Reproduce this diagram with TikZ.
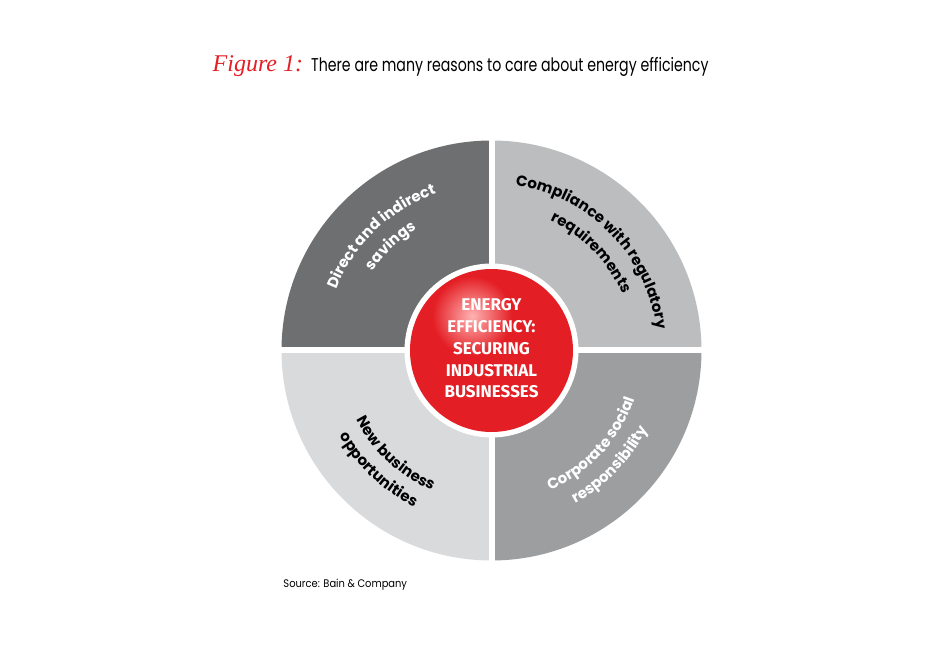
\documentclass[tikz,border=0pt]{standalone}
\usepackage{fontspec}
\setmainfont{Poppins}
\newfontfamily\titlefont[FakeStretch=0.765]{Poppins}
\newfontfamily\srcfont[FakeStretch=0.9]{Poppins}
\newfontfamily\centerfont{Fira Sans}
\newfontfamily\figfont{Liberation Serif}
\usepackage{tikz}
\usetikzlibrary{decorations.text}

\definecolor{qdark}{HTML}{6E6F70}
\definecolor{qlight}{HTML}{BCBDBF}
\definecolor{qmid}{HTML}{9C9E9F}
\definecolor{qpale}{HTML}{D9DADC}
\definecolor{ered}{HTML}{E31E24}
\newcommand\lblfont{\fontsize{15}{18}\selectfont\bfseries}

\begin{document}
\begin{tikzpicture}[x=1pt,y=1pt]
 \def\R{210}
 \def\Rw{87}
 \def\Rr{81.5}
 \useasboundingbox (-491.5,-299.5) rectangle (458.5,350.5);
 % title
 \node[anchor=base west,inner sep=0,text=ered,font=\figfont\itshape\fontsize{24}{24}\selectfont] (fig) at (-279,278.8) {Figure 1:};
 \node[anchor=base west,inner sep=0,font=\titlefont\fontsize{18.5}{20}\selectfont] (title) at (-180.5,278.8) {There are many reasons to care about energy efficiency};
 % quadrants
 \fill[qlight] (0,0) -- (0:\R) arc[start angle=0,end angle=90,radius=\R] -- cycle;
 \fill[qdark] (0,0) -- (90:\R) arc[start angle=90,end angle=180,radius=\R] -- cycle;
 \fill[qpale] (0,0) -- (180:\R) arc[start angle=180,end angle=270,radius=\R] -- cycle;
 \fill[qmid] (0,0) -- (270:\R) arc[start angle=270,end angle=360,radius=\R] -- cycle;
 \draw[white,line width=6] (-\R-5,0) -- (\R+5,0);
 \draw[white,line width=6] (0,-\R-5) -- (0,\R+5);
 % centre
 \fill[white] (0,0) circle (\Rw);
 \fill[ered] (0,0) circle (\Rr);
 \begin{scope}
  \clip (0,0) circle (\Rr);
  \shade[inner color=red!30!white,outer color=ered] (-19.5,34.5) circle (40);
 \end{scope}
 \node[align=center,inner sep=0,text=white,font=\centerfont\bfseries\fontsize{17}{21.8}\selectfont] (core) at (0,2.1)
  {ENERGY\\EFFICIENCY:\\SECURING\\INDUSTRIAL\\BUSINESSES};
 % labels
 \path[decorate,decoration={text along path,text align=center,text color=white,
   text={|\lblfont|Direct and indirect}}] (179:166.5) arc[start angle=179,end angle=89,radius=166.5];
 \path[decorate,decoration={text along path,text align=center,text color=white,
   text={|\lblfont|savings}}] (179:142.5) arc[start angle=179,end angle=89,radius=142.5];
 \path[decorate,decoration={text along path,text align=center,text color=black,
   text={|\lblfont|Compliance with regulatory}}] (89.5:166.5) arc[start angle=89.5,end angle=-0.5,radius=166.5];
 \path[decorate,decoration={text along path,text align=center,text color=black,
   text={|\lblfont|requirements}}] (89.5:142.5) arc[start angle=89.5,end angle=-0.5,radius=142.5];
 \path[decorate,decoration={text along path,text align=center,text color=white,
   text={|\lblfont|Corporate social}}] (-88:151.5) arc[start angle=-88,end angle=2,radius=151.5];
 \path[decorate,decoration={text along path,text align=center,text color=white,
   text={|\lblfont|responsibility}}] (-89:174.5) arc[start angle=-89,end angle=1,radius=174.5];
 \path[decorate,decoration={text along path,text align=center,text color=black,
   text={|\lblfont|New business}}] (182:152) arc[start angle=182,end angle=272,radius=152];
 \path[decorate,decoration={text along path,text align=center,text color=black,
   text={|\lblfont|opportunities}}] (181.5:174.5) arc[start angle=181.5,end angle=271.5,radius=174.5];
 % source
 \node[anchor=base west,inner sep=0,font=\srcfont\fontsize{11}{13}\selectfont] (src) at (-208.2,-236.8) {Source: Bain \& Company};
\end{tikzpicture}
\end{document}
